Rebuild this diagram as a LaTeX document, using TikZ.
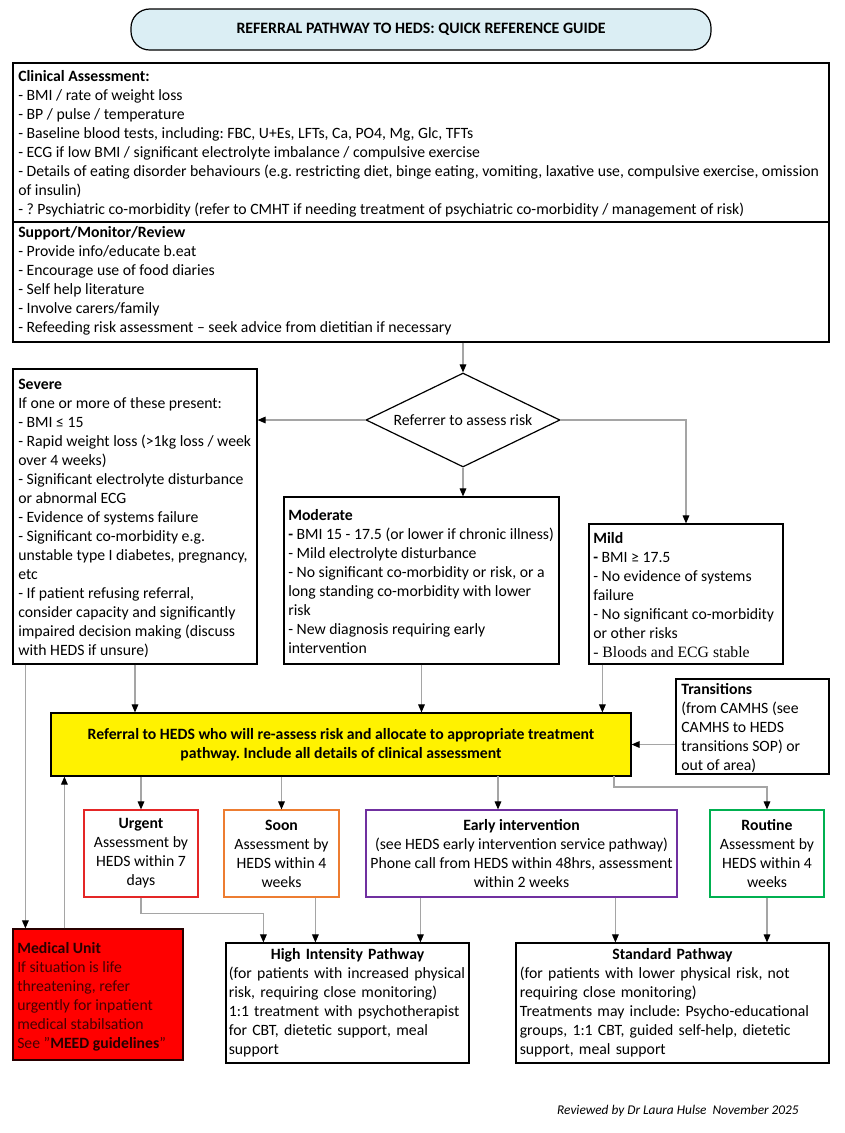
\documentclass[tikz,border=0pt]{standalone}
\usepackage{fontspec}
\setmainfont{Carlito}
\newfontfamily\bloodsfont{Liberation Serif}
\usetikzlibrary{arrows.meta,shapes.geometric,fit}

\definecolor{titleblue}{RGB}{219,238,244}
\definecolor{urgentred}{RGB}{228,38,38}
\definecolor{soonorange}{RGB}{237,125,49}
\definecolor{earlypurple}{RGB}{112,48,160}
\definecolor{routinegreen}{RGB}{0,176,80}
\definecolor{medred}{RGB}{255,0,0}
\definecolor{medtext}{RGB}{70,0,0}
\definecolor{medhead}{RGB}{40,0,0}
\definecolor{linegray}{RGB}{165,165,165}

\tikzset{
  box/.style={draw, line width=0.9pt, inner sep=0pt},
  txt/.style={font=\fontsize{11.8}{14.25}\selectfont, align=left, inner sep=0pt, anchor=north west},
  ctxt/.style={font=\fontsize{11.8}{14.25}\selectfont, align=center, inner sep=0pt},
  link/.style={draw=linegray, line width=0.8pt, -{Triangle[black,length=6pt,width=5pt]}}
}
\frenchspacing

\begin{document}
\begin{tikzpicture}[x=0.75pt,y=-0.75pt]
\useasboundingbox (0,0) rectangle (845,1133);

% title
\node[box, rounded corners=14pt, fill=titleblue, fit={(131,9) (711,50)}] (title) {};
\node[ctxt, font=\fontsize{11.9}{14.25}\selectfont\bfseries] (titleT) at (title.center) {REFERRAL PATHWAY TO HEDS: QUICK REFERENCE GUIDE};

% assessment and support
\node[box, fit={(13,63) (829,222)}] (clinical) {};
\node[txt] (clinicalT) at (18,70) {\textbf{Clinical Assessment:}\\
- BMI / rate of weight loss\\
- BP / pulse / temperature\\
- Baseline blood tests, including: FBC, U+Es, LFTs, Ca, PO4, Mg, Glc, TFTs\\
- ECG if low BMI / significant electrolyte imbalance / compulsive exercise\\
- Details of eating disorder behaviours (e.g. restricting diet, binge eating, vomiting, laxative use, compulsive exercise, omission\\
of insulin)\\
- ? Psychiatric co-morbidity (refer to CMHT if needing treatment of psychiatric co-morbidity / management of risk)};
\node[box, fit={(13,222) (829,342)}] (support) {};
\node[txt] (supportT) at (18,226) {\textbf{Support/Monitor/Review}\\
- Provide info/educate b.eat\\
- Encourage use of food diaries\\
- Self help literature\\
- Involve carers/family\\
- Refeeding risk assessment – seek advice from dietitian if necessary};

% risk decision
\node[draw, diamond, aspect=2.06, line width=0.9pt, inner sep=0pt, minimum width=145.5pt, minimum height=70.5pt,
      font=\fontsize{11.8}{14.25}\selectfont] (diamond) at (463,420) {Referrer to assess risk};

\node[box, fit={(13,369) (257,664)}] (severe) {};
\node[txt] (severeT) at (18,379) {\textbf{Severe}\\
If one or more of these present:\\
- BMI ≤ 15\\
- Rapid weight loss (>1kg loss / week\\
over 4 weeks)\\
- Significant electrolyte disturbance\\
or abnormal ECG\\
- Evidence of systems failure\\
- Significant co-morbidity e.g.\\
unstable type I diabetes, pregnancy,\\
etc\\
- If patient refusing referral,\\
consider capacity and significantly\\
impaired decision making (discuss\\
with HEDS if unsure)};

\node[box, fit={(284,497) (559,664)}] (moderate) {};
\node[txt] (moderateT) at (288,509) {\textbf{Moderate}\\
\textbf{-} BMI 15 - 17.5 (or lower if chronic illness)\\
- Mild electrolyte disturbance\\
- No significant co-morbidity or risk, or a\\
long standing co-morbidity with lower\\
risk\\
- New diagnosis requiring early\\
intervention};

\node[box, fit={(589,524) (783,664)}] (mild) {};
\node[txt] (mildT) at (593,532) {\textbf{Mild}\\
\textbf{-} BMI ≥ 17.5\\
- No evidence of systems\\
failure\\
- No significant co-morbidity\\
or other risks\\
{\bloodsfont - Bloods and ECG stable}};

\node[box, fit={(676,679) (829,774)}] (transit) {};
\node[txt] (transitT) at (681,683) {\textbf{Transitions}\\
(from CAMHS (see\\
CAMHS to HEDS\\
transitions SOP) or\\
out of area)};

% referral
\node[box, fill=yellow, fit={(51,713) (631,776)}] (referral) {};
\node[ctxt, font=\fontsize{11.8}{14.25}\selectfont\bfseries] (referralT) at (referral.center) {Referral to HEDS who will re-assess risk and allocate to appropriate treatment\\
pathway. Include all details of clinical assessment};

% priorities
\node[box, draw=urgentred, fit={(84,810) (198,897)}] (urgent) {};
\node[ctxt] (urgentT) at (urgent.center) {\textbf{Urgent}\\Assessment by\\HEDS within 7\\days};
\node[box, draw=soonorange, fit={(224,810) (339,897)}] (soon) {};
\node[ctxt] (soonT) at (soon.center) {\textbf{Soon}\\Assessment by\\HEDS within 4\\weeks};
\node[box, draw=earlypurple, fit={(366,810) (677,897)}] (early) {};
\node[ctxt] (earlyT) at (early.center) {\textbf{Early intervention}\\(see HEDS early intervention service pathway)\\Phone call from HEDS within 48hrs, assessment\\within 2 weeks};
\node[box, draw=routinegreen, fit={(710,810) (824,897)}] (routine) {};
\node[ctxt] (routineT) at (routine.center) {\textbf{Routine}\\Assessment by\\HEDS within 4\\weeks};

% pathways
\node[box, draw=medhead, fill=medred, fit={(13,929) (183,1060)}] (medical) {};
\node[txt, text=medtext] (medicalT) at (17,942) {\textcolor{medhead}{\textbf{Medical Unit}}\\
\textcolor{medtext}{If situation is life}\\
\textcolor{medtext}{threatening, refer}\\
\textcolor{medtext}{urgently for inpatient}\\
\textcolor{medtext}{medical stabilsation}\\
\textcolor{medtext}{See "}\textbf{\textcolor{medhead}{MEED guidelines}}\textcolor{medtext}{"}};

\node[box, fit={(226,943) (469,1063)}] (high) {};
\node[txt, anchor=center, text width=178pt] (highT) at (high.center) {\makebox[\linewidth]{\textbf{High Intensity Pathway}}\\
(for patients with increased physical\\
risk, requiring close monitoring)\\
1:1 treatment with psychotherapist\\
for CBT, dietetic support, meal\\
support};
\node[box, fit={(516,943) (829,1063)}] (standard) {};
\node[txt, anchor=center, text width=229pt] (standardT) at (standard.center) {\makebox[\linewidth]{\textbf{Standard Pathway}}\\
(for patients with lower physical risk, not\\
requiring close monitoring)\\
Treatments may include: Psycho-educational\\
groups, 1:1 CBT, guided self-help, dietetic\\
support, meal support};

\node[anchor=east, inner sep=0pt, font=\fontsize{10}{12}\selectfont\itshape] (review) at (799,1111) {Reviewed by Dr Laura Hulse\ \ November 2025};

% connectors
\coordinate (earlyTap) at (498,776);
\coordinate (routineTap) at (614,776);
\draw[link] (diamond.north |- support.south) -- (diamond.north);
\draw[link] (diamond.west) -- (severe.east |- diamond.west);
\draw[link] (diamond.south) -- (diamond.south |- moderate.north);
\draw[link] (diamond.east) -| (mild.north);
\draw[link] (severe.south) -- (severe.south |- referral.north);
\draw[link] (moderate.south) -- (moderate.south |- referral.north);
\draw[link] ([xshift=10.5pt]mild.south west) -- ([xshift=10.5pt]mild.south west |- referral.north);
\draw[link] (transit.west |- referral.east) -- (referral.east);
\draw[link] (urgent.north |- referral.south) -- (urgent.north);
\draw[link] (soon.north |- referral.south) -- (soon.north);
\draw[link] (earlyTap) -- (earlyTap |- early.north);
\draw[link] (routineTap) -- ++(0,11) -| (routine.north);
\draw[link] ([xshift=9.75pt]severe.south west) -- ([xshift=9.75pt]medical.north west);
\draw[link] ([xshift=39pt]medical.north west) -- ([xshift=39pt]medical.north west |- referral.south);
\draw[link] (urgent.south) -- ++(0,16) -| ([xshift=28.5pt]high.north west);
\draw[link] ([xshift=67.5pt]high.north west |- soon.south) -- ([xshift=67.5pt]high.north west);
\draw[link] ([xshift=146.25pt]high.north west |- early.south) -- ([xshift=146.25pt]high.north west);
\draw[link] ([xshift=75pt]standard.north west |- early.south) -- ([xshift=75pt]standard.north west);
\draw[link] (routine.south) -- (routine.south |- standard.north);
\end{tikzpicture}
\end{document}
